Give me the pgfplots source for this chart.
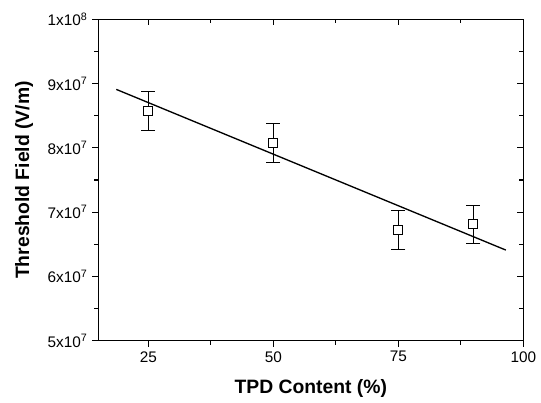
\documentclass[border=0pt]{standalone}
\usepackage{pgfplots}
\pgfplotsset{compat=1.18}
\usepackage{fontspec}
\setmainfont{Liberation Sans}
\begin{document}
\begin{tikzpicture}[x=1pt,y=1pt]
\pgfplotsset{
  common/.style={
    scale only axis, width=318.75pt, height=241pt,
    xmin=15, xmax=100, ymin=5e7, ymax=1e8,
    xtick={25,50,75,100}, minor xtick={37.5,62.5,87.5},
    ytick={5e7,6e7,7e7,8e7,9e7,1e8}, minor ytick={5.5e7,6.5e7,7.5e7,8.5e7,9.5e7},
    scaled y ticks=false,
    major tick length=4.5pt, minor tick length=3pt,
    every tick/.style={black, line width=0.8pt},
    axis line style={line width=0.9pt},
    tick label style={font=\fontsize{11.5}{13}\selectfont},
  }
}
\begin{axis}[common,
  axis x line*=bottom, axis y line*=left,
  tick align=outside,
  yticklabels={5x10\textsuperscript{7},6x10\textsuperscript{7},7x10\textsuperscript{7},8x10\textsuperscript{7},9x10\textsuperscript{7},1x10\textsuperscript{8}},
  xticklabels={25,50,75,100},
  xlabel={\bfseries TPD Content (\%)},
  ylabel={\bfseries Threshold Field (V/m)},
  label style={font=\fontsize{14.5}{16}\selectfont\bfseries},
  xlabel style={yshift=-6pt},
  ylabel style={yshift=4pt},
]
\addplot[black, line width=1pt, no marks] coordinates {(18.6,8.91e7) (96.5,6.41e7)};
\addplot[black, only marks, mark=square*, mark size=3.3pt,
  mark options={fill=white, line width=0.75pt},
  error bars/.cd, y dir=both, y explicit,
  error bar style={line width=0.75pt},
  error mark options={rotate=90, black, mark size=5.2pt, line width=0.75pt}]
  coordinates {
    (25,8.57e7) +- (0,0.30e7)
    (50,8.08e7) +- (0,0.30e7)
    (75,6.72e7) +- (0,0.30e7)
    (90,6.81e7) +- (0,0.30e7)
  };
\end{axis}
\begin{axis}[common,
  axis x line*=top, axis y line*=right,
  tick align=inside,
  xticklabels={}, yticklabels={},
]
\end{axis}
\path (-73.7pt,-46pt) rectangle (332pt,255.5pt);
\end{tikzpicture}
\end{document}
